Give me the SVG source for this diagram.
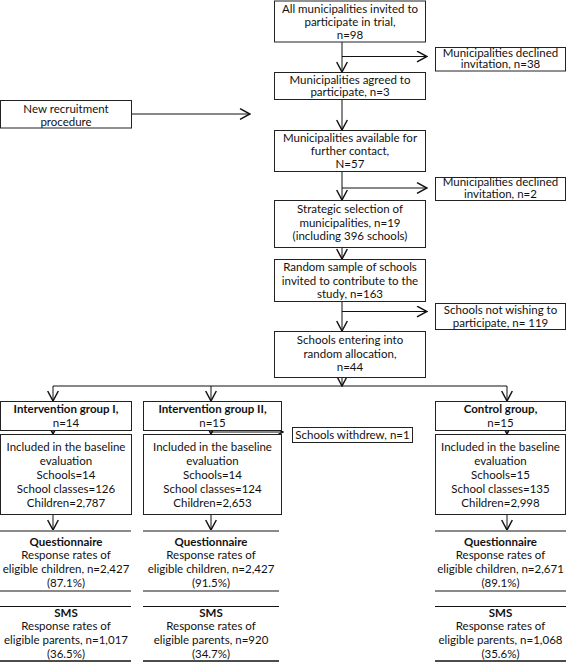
<svg xmlns="http://www.w3.org/2000/svg" width="567" height="664" viewBox="0 0 567 664">
<style>
.b{fill:#fff;stroke:#222;stroke-width:1}
.t{font-family:Lato,"Liberation Sans",sans-serif;font-size:11.5px;fill:#111;text-anchor:middle}
.bd{font-weight:bold}
.c{fill:none;stroke:#111;stroke-width:1}
.ar{marker-end:url(#ah)}
.qr{stroke:#8a8a8a;stroke-width:2}
.sr{stroke:#111;stroke-width:1}
.sb{stroke:#111;stroke-width:1.6}
</style>
<defs>
<marker id="ah" markerUnits="userSpaceOnUse" markerWidth="12" markerHeight="12" refX="8" refY="4.5" orient="auto" viewBox="0 0 9 9">
<path d="M0.5,0.5 L8,4.5 L0.5,8.5" fill="none" stroke="#111" stroke-width="1.1"/>
</marker>
</defs>
<rect width="567" height="664" fill="#fff"/>
<g id="connectors">
<path class="c ar" d="M342,42 V72"/>
<path class="c ar" d="M342,56.5 H427"/>
<path class="c ar" d="M342,99.5 V130"/>
<path class="c ar" d="M131.5,114 H250"/>
<path class="c ar" d="M342,171.5 V200"/>
<path class="c ar" d="M342,188 H427"/>
<path class="c ar" d="M342,247.5 V259"/>
<path class="c ar" d="M342,301.5 V331"/>
<path class="c ar" d="M342,311.5 H427"/>
<path class="c ar" d="M342,377.5 V386"/>
<path class="c ar" d="M342,386 H53 V401"/>
<path class="c ar" d="M342,386 H507 V401"/>
<path class="c ar" d="M211,386 V401"/>
<path class="c ar" d="M53,430.5 V434"/>
<path class="c ar" d="M211,430.5 V434"/>
<path class="c ar" d="M507,430.5 V434"/>
<path class="c ar" d="M211,432 H283"/>
<path class="c ar" d="M53,514.5 V530"/>
<path class="c ar" d="M211,514.5 V530"/>
<path class="c ar" d="M507,514.5 V530"/>
</g>
<g id="n1"><rect class="b" x="274.5" y="1" width="151" height="41"/>
<text class="t" x="350" y="12.5">All municipalities invited to</text>
<text class="t" x="350" y="25.5">participate in trial,</text>
<text class="t" x="350" y="38.5">n=98</text></g>
<g id="n2"><rect class="b" x="435.5" y="47.5" width="130" height="23.5"/>
<text class="t" x="500.5" y="56.5">Municipalities declined</text>
<text class="t" x="500.5" y="68">invitation, n=38</text></g>
<g id="n3"><rect class="b" x="274.5" y="72.5" width="151" height="27"/>
<text class="t" x="350" y="84">Municipalities agreed to</text>
<text class="t" x="350" y="96">participate, n=3</text></g>
<g id="n4"><rect class="b" x="0.5" y="100.5" width="131" height="27.5"/>
<text class="t" x="66" y="112.5">New recruitment</text>
<text class="t" x="66" y="126">procedure</text></g>
<g id="n5"><rect class="b" x="274.5" y="130.5" width="151" height="41"/>
<text class="t" x="350" y="141.5">Municipalities available for</text>
<text class="t" x="350" y="155">further contact,</text>
<text class="t" x="350" y="168">N=57</text></g>
<g id="n6"><rect class="b" x="435.5" y="177.5" width="130" height="23"/>
<text class="t" x="500.5" y="186">Municipalities declined</text>
<text class="t" x="500.5" y="197.5">invitation, n=2</text></g>
<g id="n7"><rect class="b" x="274.5" y="200.5" width="151" height="47"/>
<text class="t" x="350" y="213">Strategic selection of</text>
<text class="t" x="350" y="226.5">municipalities, n=19</text>
<text class="t" x="350" y="240">(including 396 schools)</text></g>
<g id="n8"><rect class="b" x="274.5" y="259.5" width="151" height="42"/>
<text class="t" x="350" y="271">Random sample of schools</text>
<text class="t" x="350" y="284.5">invited to contribute to the</text>
<text class="t" x="350" y="297.5">study, n=163</text></g>
<g id="n9"><rect class="b" x="435.5" y="303.5" width="130" height="26"/>
<text class="t" x="500.5" y="313.5">Schools not wishing to</text>
<text class="t" x="500.5" y="326.5">participate, n= 119</text></g>
<g id="n10"><rect class="b" x="274.5" y="331.5" width="151" height="46"/>
<text class="t" x="350" y="344">Schools entering into</text>
<text class="t" x="350" y="357.5">random allocation,</text>
<text class="t" x="350" y="371">n=44</text></g>
<g id="n11"><rect class="b" x="0.5" y="401.5" width="131" height="29"/>
<text class="t bd" x="66" y="413">Intervention group I,</text>
<text class="t" x="66" y="426.5">n=14</text></g>
<g id="n12"><rect class="b" x="143.5" y="401.5" width="138" height="29"/>
<text class="t bd" x="212.5" y="413">Intervention group II,</text>
<text class="t" x="212.5" y="426.5">n=15</text></g>
<g id="n13"><rect class="b" x="435.5" y="401.5" width="130" height="29"/>
<text class="t bd" x="500.5" y="413">Control group,</text>
<text class="t" x="500.5" y="426.5">n=15</text></g>
<g id="n14"><rect class="b" x="292.5" y="427.5" width="120" height="15"/>
<text class="t" x="352.5" y="439">Schools withdrew, n=1</text></g>
<g id="n15"><rect class="b" x="0.5" y="434.5" width="131" height="80"/>
<text class="t" x="66" y="451">Included in the baseline</text>
<text class="t" x="66" y="465">evaluation</text>
<text class="t" x="66" y="479">Schools=14</text>
<text class="t" x="66" y="493">School classes=126</text>
<text class="t" x="66" y="507">Children=2,787</text></g>
<g id="n16"><rect class="b" x="143.5" y="434.5" width="138" height="80"/>
<text class="t" x="212.5" y="451">Included in the baseline</text>
<text class="t" x="212.5" y="465">evaluation</text>
<text class="t" x="212.5" y="479">Schools=14</text>
<text class="t" x="212.5" y="493">School classes=124</text>
<text class="t" x="212.5" y="507">Children=2,653</text></g>
<g id="n17"><rect class="b" x="435.5" y="434.5" width="130" height="80"/>
<text class="t" x="500.5" y="451">Included in the baseline</text>
<text class="t" x="500.5" y="465">evaluation</text>
<text class="t" x="500.5" y="479">Schools=15</text>
<text class="t" x="500.5" y="493">School classes=135</text>
<text class="t" x="500.5" y="507">Children=2,998</text></g>
<g id="n18"><line class="qr" x1="0" y1="531" x2="131" y2="531"/><line class="qr" x1="0" y1="591" x2="131" y2="591"/>
<text class="t bd" x="66" y="545.5">Questionnaire</text>
<text class="t" x="66" y="559">Response rates of</text>
<text class="t" x="66" y="573">eligible children, n=2,427</text>
<text class="t" x="66" y="586.5">(87.1%)</text></g>
<g id="n19"><line class="qr" x1="143" y1="531" x2="279" y2="531"/><line class="qr" x1="143" y1="591" x2="279" y2="591"/>
<text class="t bd" x="211" y="545.5">Questionnaire</text>
<text class="t" x="211" y="559">Response rates of</text>
<text class="t" x="211" y="573">eligible children, n=2,427</text>
<text class="t" x="211" y="586.5">(91.5%)</text></g>
<g id="n20"><line class="qr" x1="435" y1="531" x2="566" y2="531"/><line class="qr" x1="435" y1="591" x2="566" y2="591"/>
<text class="t bd" x="500.5" y="545.5">Questionnaire</text>
<text class="t" x="500.5" y="559">Response rates of</text>
<text class="t" x="500.5" y="573">eligible children, n=2,671</text>
<text class="t" x="500.5" y="586.5">(89.1%)</text></g>
<g id="n21"><line class="sr" x1="0" y1="606.5" x2="131" y2="606.5"/><line class="sb" x1="0" y1="661" x2="131" y2="661"/>
<text class="t bd" x="66" y="616.5">SMS</text>
<text class="t" x="66" y="630">Response rates of</text>
<text class="t" x="66" y="644">eligible parents, n=1,017</text>
<text class="t" x="66" y="657.5">(36.5%)</text></g>
<g id="n22"><line class="sr" x1="143" y1="606.5" x2="279" y2="606.5"/><line class="sb" x1="143" y1="661" x2="279" y2="661"/>
<text class="t bd" x="211" y="616.5">SMS</text>
<text class="t" x="211" y="630">Response rates of</text>
<text class="t" x="211" y="644">eligible parents, n=920</text>
<text class="t" x="211" y="657.5">(34.7%)</text></g>
<g id="n23"><line class="sr" x1="435" y1="606.5" x2="566" y2="606.5"/><line class="sb" x1="435" y1="661" x2="566" y2="661"/>
<text class="t bd" x="500.5" y="616.5">SMS</text>
<text class="t" x="500.5" y="630">Response rates of</text>
<text class="t" x="500.5" y="644">eligible parents, n=1,068</text>
<text class="t" x="500.5" y="657.5">(35.6%)</text></g>
</svg>
